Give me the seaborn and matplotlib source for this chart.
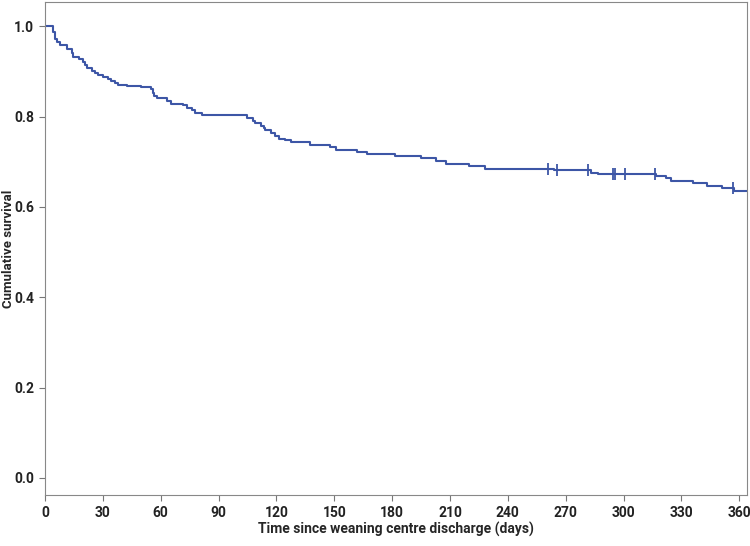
import numpy as np
import pandas as pd
import matplotlib
matplotlib.use("Agg")
import matplotlib.pyplot as plt
import seaborn as sns

# Kaplan-Meier step points (days, survival)
event_days = [0, 4.3, 5.2, 6.0, 7.8, 11.2, 13.8, 14.7, 17.8, 19.5, 20.7, 21.9,
              24.2, 25.9, 27.6, 29.9, 32.8, 34.0, 36.3, 38.0, 42.3, 49.6, 54.8,
              55.8, 56.6, 57.9, 63.4, 65.1, 71.7, 73.7, 76.0, 77.7, 81.2, 104.6,
              107.6, 109.0, 111.8, 113.5, 114.3, 117.4, 119.0, 121.4, 124.4,
              127.8, 137.3, 148.0, 151.0, 161.8, 167.0, 181.3, 195.0, 202.6,
              208.0, 220.0, 228.0, 264.0, 283.0, 286.5, 317.0, 322.0, 324.7,
              336.0, 343.5, 351.0, 357.5, 364.0]
survival = [1.000, 0.988, 0.973, 0.965, 0.959, 0.950, 0.941, 0.933, 0.928,
            0.922, 0.915, 0.908, 0.902, 0.897, 0.893, 0.888, 0.883, 0.878,
            0.875, 0.871, 0.868, 0.866, 0.861, 0.853, 0.846, 0.842, 0.835,
            0.829, 0.825, 0.820, 0.814, 0.809, 0.803, 0.798, 0.791, 0.787,
            0.779, 0.774, 0.770, 0.763, 0.757, 0.751, 0.748, 0.744, 0.737,
            0.733, 0.726, 0.721, 0.717, 0.713, 0.709, 0.702, 0.696, 0.691,
            0.685, 0.681, 0.676, 0.672, 0.669, 0.664, 0.658, 0.653, 0.647,
            0.641, 0.635, 0.635]

# censored observations
censor_days = [260.6, 265.7, 281.3, 294.3, 295.3, 300.5, 316.4, 356.5]
censor_surv = [0.685, 0.681, 0.681, 0.672, 0.672, 0.672, 0.672, 0.641]

x_ticks = list(range(0, 361, 30))
y_ticks = [0.0, 0.2, 0.4, 0.6, 0.8, 1.0]

line_color = "#3d56a6"

sns.set_style("white")
plt.rcParams["font.family"] = ["Roboto", "DejaVu Sans"]

fig = plt.figure(figsize=(7.5, 5.46), dpi=100)
ax = fig.add_axes([0.06, 0.0934, 0.936, 0.903])

km = pd.DataFrame({"days": event_days, "surv": survival})
sns.lineplot(data=km, x="days", y="surv", drawstyle="steps-post",
             color=line_color, linewidth=1.5, ax=ax)

cens = pd.DataFrame({"days": censor_days, "surv": censor_surv})
sns.scatterplot(data=cens, x="days", y="surv", marker="|", s=70,
                linewidth=1.3, color=line_color, ax=ax)

ax.set_xlim(0, 364)
ax.set_ylim(-0.038, 1.054)
ax.set_xticks(x_ticks)
ax.set_yticks(y_ticks)
ax.set_xticklabels([str(t) for t in x_ticks], fontsize=10, fontweight="bold",
                   color="#222222")
ax.set_yticklabels([f"{t:.1f}" for t in y_ticks], fontsize=10,
                   fontweight="bold", color="#222222")
ax.tick_params(axis="both", direction="out", length=4, width=0.8,
               color="#777777", bottom=True, left=True, pad=4)

for side in ["left", "bottom", "top", "right"]:
    ax.spines[side].set_visible(True)
    ax.spines[side].set_color("#888888")
    ax.spines[side].set_linewidth(0.8)

ax.set_xlabel("Time since weaning centre discharge (days)", fontsize=10,
              fontweight="bold", labelpad=1)
ax.set_ylabel("Cumulative survival", fontsize=9.5, fontweight="bold")
ax.yaxis.set_label_coords(-0.043, 0.5)

fig.savefig("out.png", dpi=100)
